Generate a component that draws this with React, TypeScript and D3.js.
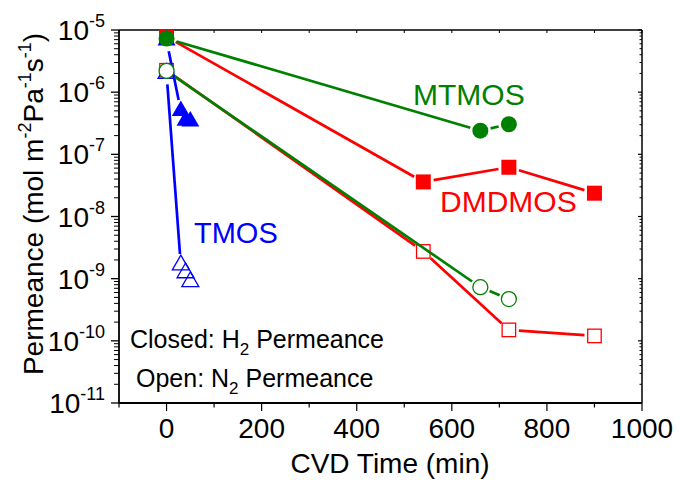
import { useEffect, useRef } from 'react';
import * as d3 from 'd3';

// data (time in min, permeance in mol m-2 Pa-1 s-1)
const tmosTime = [0, 30, 40, 50];
const tmosH2 = [6.8e-6, 5.0e-7, 3.5e-7, 3.4e-7];
const tmosN2 = [2.0e-6, 1.66e-9, 1.24e-9, 8.9e-10];

const mtmosTime = [0, 660, 720];
const mtmosH2 = [7.3e-6, 2.4e-7, 3.05e-7];
const mtmosN2 = [2.2e-6, 7.3e-10, 4.7e-10];

const dmdmosTime = [0, 540, 720, 900];
const dmdmosH2 = [7.8e-6, 3.6e-8, 6.2e-8, 2.37e-8];
const dmdmosN2 = [2.25e-6, 2.74e-9, 1.5e-10, 1.2e-10];

const xTicks = [0, 200, 400, 600, 800, 1000];
const yDecades = [-11, -10, -9, -8, -7, -6, -5];

const W = 679;
const H = 480;
const FONT = '"Liberation Sans", Arial, sans-serif';

export default function App() {
  const svgRef = useRef<SVGSVGElement>(null);

  useEffect(() => {
    const svg = d3.select(svgRef.current);
    svg.selectAll('*').remove();

    const x = d3.scaleLinear().domain([-100, 1000]).range([119, 642]);
    const y = d3.scaleLog().domain([1e-11, 1e-5]).range([403, 30]);
    const [x0, x1] = x.range();
    const [y0, y1] = y.range();

    const axes = svg.append('g').attr('stroke', '#000').attr('fill', 'none');

    // minor log ticks
    const minorY: number[] = [];
    yDecades.slice(0, -1).forEach(e => {
      for (let k = 2; k <= 9; k++) minorY.push(k * Math.pow(10, e));
    });

    // left axis, ticks outward
    yDecades.forEach(e => {
      const yy = y(Math.pow(10, e));
      axes.append('line').attr('x1', x0 - 8).attr('x2', x0).attr('y1', yy).attr('y2', yy).attr('stroke-width', 1.3);
      axes.append('line').attr('x1', x1 - 4).attr('x2', x1).attr('y1', yy).attr('y2', yy).attr('stroke-width', 1.2);
    });
    minorY.forEach(v => {
      const yy = y(v);
      axes.append('line').attr('x1', x0 - 5).attr('x2', x0).attr('y1', yy).attr('y2', yy).attr('stroke-width', 1);
      axes.append('line').attr('x1', x1 - 2.5).attr('x2', x1).attr('y1', yy).attr('y2', yy).attr('stroke-width', 1);
    });

    // bottom axis ticks outward, top ticks inward
    d3.range(-100, 1001, 100).forEach(v => {
      const xx = x(v);
      const major = v % 200 === 0;
      axes.append('line').attr('x1', xx).attr('x2', xx).attr('y1', y0).attr('y2', y0 + (major ? 8 : 4.5)).attr('stroke-width', 1.2);
      axes.append('line').attr('x1', xx).attr('x2', xx).attr('y1', y1).attr('y2', y1 + 3).attr('stroke-width', 1);
    });

    axes.append('line').attr('x1', x0).attr('x2', x0).attr('y1', y1).attr('y2', y0).attr('stroke-width', 1.8);
    axes.append('line').attr('x1', x0).attr('x2', x1).attr('y1', y0).attr('y2', y0).attr('stroke-width', 1.8);
    axes.append('line').attr('x1', x1).attr('x2', x1).attr('y1', y1).attr('y2', y0).attr('stroke-width', 1.5);
    axes.append('line').attr('x1', x0).attr('x2', x1).attr('y1', y1).attr('y2', y1).attr('stroke-width', 1.5);

    // tick labels
    const labels = svg.append('g').style('font-family', FONT).attr('fill', '#000');
    xTicks.forEach(v => {
      labels.append('text').attr('x', x(v)).attr('y', 438).attr('text-anchor', 'middle')
        .style('font-size', '28px').text(v);
    });
    yDecades.forEach(e => {
      const t = labels.append('text').attr('x', 105).attr('y', y(Math.pow(10, e)) + 10)
        .attr('text-anchor', 'end').style('font-size', '28px');
      t.append('tspan').text('10');
      t.append('tspan').attr('dy', -13).style('font-size', '18px').text(String(e));
    });

    labels.append('text').attr('x', 390).attr('y', 473).attr('text-anchor', 'middle')
      .style('font-size', '28px').text('CVD Time (min)');

    const yt = labels.append('text').attr('transform', 'translate(43,204) rotate(-90)')
      .attr('text-anchor', 'middle').style('font-size', '28px');
    yt.append('tspan').text('Permeance (mol m');
    yt.append('tspan').attr('dy', -12).style('font-size', '18px').text('-2');
    yt.append('tspan').attr('dy', 12).text('Pa');
    yt.append('tspan').attr('dy', -12).style('font-size', '18px').text('-1');
    yt.append('tspan').attr('dy', 12).text('s');
    yt.append('tspan').attr('dy', -12).style('font-size', '18px').text('-1');
    yt.append('tspan').attr('dy', 12).text(')');

    // series
    const tri = (s: number) => {
      const h = s * 0.866;
      return `M0,${-h * 2 / 3}L${s / 2},${h / 3}L${-s / 2},${h / 3}Z`;
    };

    type Series = { t: number[]; v: number[]; color: string; shape: string; filled: boolean; gap: number };
    const series: Series[] = [
      { t: dmdmosTime, v: dmdmosN2, color: '#ff0000', shape: 'square', filled: false, gap: 10 },
      { t: dmdmosTime, v: dmdmosH2, color: '#ff0000', shape: 'square', filled: true, gap: 10.5 },
      { t: tmosTime, v: tmosN2, color: '#0000ff', shape: 'triangle', filled: false, gap: 11 },
      { t: tmosTime, v: tmosH2, color: '#0000ff', shape: 'triangle', filled: true, gap: 11 },
      { t: mtmosTime, v: mtmosN2, color: '#008000', shape: 'circle', filled: false, gap: 10 },
      { t: mtmosTime, v: mtmosH2, color: '#008000', shape: 'circle', filled: true, gap: 10.5 },
    ];

    const plot = svg.append('g');
    series.forEach(s => {
      const pts = s.t.map((t, i) => [x(t), y(s.v[i])]);
      const g = plot.append('g');
      // lines with gaps at the symbols
      d3.pairs(pts).forEach(([a, b]) => {
        const dx = b[0] - a[0];
        const dy = b[1] - a[1];
        const d = Math.hypot(dx, dy);
        if (d <= 2 * s.gap) return;
        const ux = dx / d;
        const uy = dy / d;
        g.append('line')
          .attr('x1', a[0] + ux * s.gap).attr('y1', a[1] + uy * s.gap)
          .attr('x2', b[0] - ux * s.gap).attr('y2', b[1] - uy * s.gap)
          .attr('stroke', s.color).attr('stroke-width', 2.7);
      });
      pts.forEach(p => {
        let m;
        if (s.shape === 'circle') {
          m = g.append('circle').attr('cx', p[0]).attr('cy', p[1]).attr('r', s.filled ? 8 : 7.5);
        } else if (s.shape === 'square') {
          const sz = s.filled ? 15 : 13.5;
          m = g.append('rect').attr('x', p[0] - sz / 2).attr('y', p[1] - sz / 2).attr('width', sz).attr('height', sz);
        } else {
          m = g.append('path').attr('d', tri(s.filled ? 18 : 17)).attr('transform', `translate(${p[0]},${p[1]})`);
        }
        if (s.filled) m.attr('fill', s.color);
        else m.attr('fill', s.shape === 'triangle' ? 'none' : '#fff').attr('stroke', s.color).attr('stroke-width', 1.3);
      });
    });

    // annotations
    const notes = svg.append('g').style('font-family', FONT);
    notes.append('text').attr('x', 413).attr('y', 105).style('font-size', '30px').attr('fill', '#008000').text('MTMOS');
    notes.append('text').attr('x', 440).attr('y', 212).style('font-size', '30px').attr('fill', '#ff0000').text('DMDMOS');
    notes.append('text').attr('x', 194).attr('y', 243).style('font-size', '29px').attr('fill', '#0000ff').text('TMOS');

    const c = notes.append('text').attr('x', 130).attr('y', 348).style('font-size', '25px');
    c.append('tspan').text('Closed: H');
    c.append('tspan').attr('dy', 7).style('font-size', '17px').text('2');
    c.append('tspan').attr('dy', -7).text(' Permeance');
    const o = notes.append('text').attr('x', 136).attr('y', 387).style('font-size', '25px');
    o.append('tspan').text('Open: N');
    o.append('tspan').attr('dy', 7).style('font-size', '17px').text('2');
    o.append('tspan').attr('dy', -7).text(' Permeance');
  }, []);

  return (
    <svg ref={svgRef} width={W} height={H} style={{ position: 'absolute', left: 0, top: 0, background: '#fff' }} />
  );
}
